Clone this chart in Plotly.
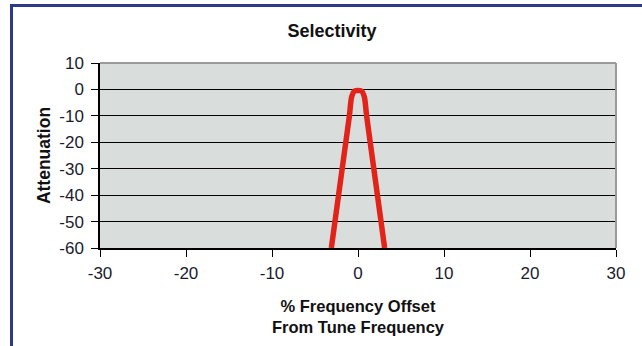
import plotly.graph_objects as go

# Data
offset_pct = [-3.1, -1.0, -0.75, -0.4, 0.4, 0.75, 1.0, 3.1]
attenuation = [-60, -10, -3, -0.6, -0.6, -3, -10, -60]

x_ticks = [-30, -20, -10, 0, 10, 20, 30]
x_tick_text = ["-30", "-20", "-10", "0", "10", "20", "30"]
y_ticks = [10, 0, -10, -20, -30, -40, -50, -60]
y_tick_text = ["10", "0", "-10", "-20", "-30", "-40", "-50", "-60"]

W, H = 642, 346
ML, MR, MT, MB = 100, 26, 63, 98
pw = W - ML - MR
ph = H - MT - MB

def px(xp):
    return (xp - ML) / pw

def py(yp):
    return (H - MB - yp) / ph

fig = go.Figure()
fig.add_trace(go.Scatter(
    x=offset_pct, y=attenuation, mode="lines",
    line=dict(color="#e2231a", width=5.5, shape="spline", smoothing=0.6),
    cliponaxis=True, showlegend=False, hoverinfo="skip"))

font_family = "Liberation Sans, Arial, sans-serif"
tick_family = "Liberation Sans Narrow, Arial Narrow, Liberation Sans, sans-serif"
border_blue = "#2d3a8c"
tick_col = "#1a1a2e"

fig.update_layout(
    width=W, height=H,
    margin=dict(l=ML, r=MR, t=MT, b=MB),
    paper_bgcolor="white",
    plot_bgcolor="#d9dedc",
    title=dict(text="<b>Selectivity</b>", xref="paper", x=px(332), xanchor="center",
               yref="container", y=1 - 31 / H, yanchor="middle",
               font=dict(family=font_family, size=18, color="#111")),
    font=dict(family=font_family, color="#1a1a1a"),
    xaxis=dict(range=[-30, 30], tickvals=x_ticks, ticktext=x_tick_text, showgrid=False,
               zeroline=False, showline=True, linecolor="black", linewidth=1.5,
               ticks="outside", ticklen=7, tickcolor="black", ticklabelstandoff=2,
               tickfont=dict(family=tick_family, size=17, color=tick_col),
               title=dict(text="<b>% Frequency Offset<br>From Tune Frequency</b>",
                          font=dict(size=16.5, color="#111"), standoff=18)),
    yaxis=dict(range=[-60, 10], tickvals=y_ticks, ticktext=y_tick_text, showgrid=True,
               gridcolor="black", gridwidth=1.2,
               zeroline=False, showline=True, linecolor="black", linewidth=1.5,
               ticks="outside", ticklen=7, tickcolor="black", ticklabelstandoff=4,
               tickfont=dict(family=tick_family, size=17, color=tick_col),
               title=dict(text="<b>Attenuation</b>",
                          font=dict(size=17.5, color="#111"), standoff=4)),
    shapes=[
        # gray plot-area border (top and right)
        dict(type="line", xref="paper", yref="paper", x0=0, x1=1, y0=1, y1=1,
             line=dict(color="#9a9a9a", width=2), layer="above"),
        dict(type="line", xref="paper", yref="paper", x0=1, x1=1, y0=0, y1=1,
             line=dict(color="#9a9a9a", width=2), layer="above"),
        # blue outer frame (left and top)
        dict(type="line", xref="paper", yref="paper", x0=px(11.5), x1=px(11.5),
             y0=py(5), y1=py(360), line=dict(color=border_blue, width=3)),
        dict(type="line", xref="paper", yref="paper", x0=px(10), x1=px(660),
             y0=py(5.5), y1=py(5.5), line=dict(color=border_blue, width=3)),
    ],
)

fig.write_html("out.html")
